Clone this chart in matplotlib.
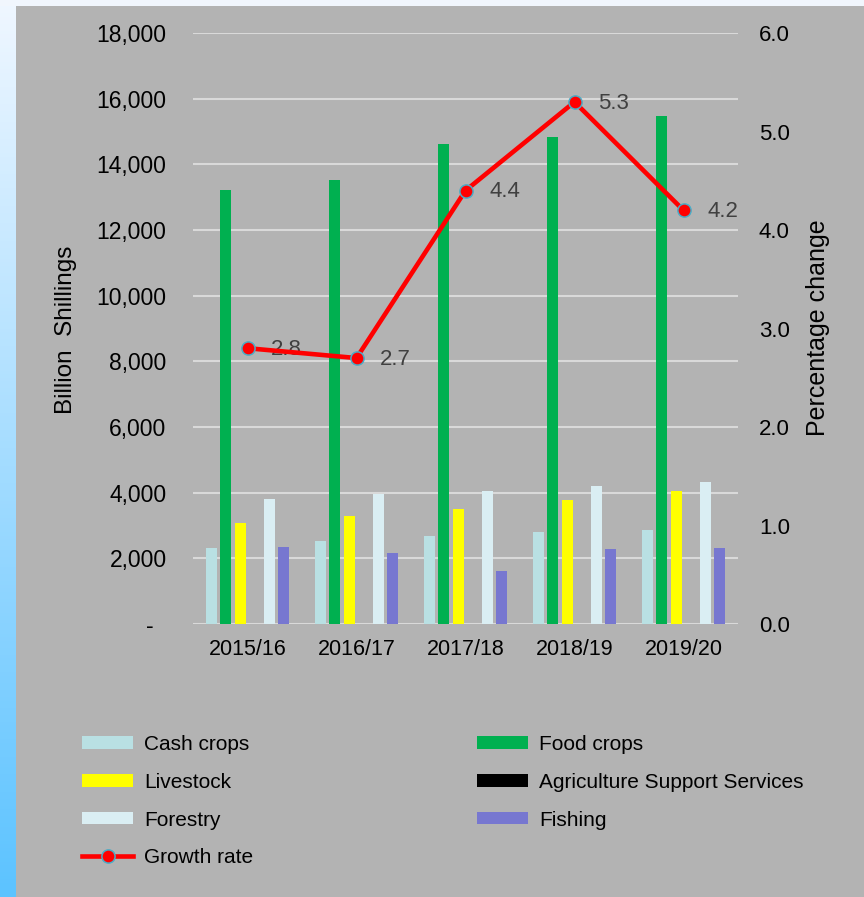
import numpy as np
import matplotlib
matplotlib.use("Agg")
import matplotlib.pyplot as plt
from matplotlib.colors import LinearSegmentedColormap
from matplotlib.lines import Line2D
from matplotlib.patches import Patch, Rectangle

plt.rcParams["font.family"] = ["Liberation Sans", "DejaVu Sans"]

# agricultural output, billion shillings, plus growth rate (%)
years = ["2015/16", "2016/17", "2017/18", "2018/19", "2019/20"]
cash_crops = [2320, 2530, 2680, 2790, 2860]
food_crops = [13210, 13510, 14620, 14820, 15480]
livestock = [3090, 3300, 3510, 3780, 4060]
support_services = [5, 5, 5, 5, 5]
forestry = [3820, 3950, 4060, 4200, 4340]
fishing = [2350, 2160, 1600, 2270, 2320]
growth_rate = [2.8, 2.7, 4.4, 5.3, 4.2]

series = [
    ("Cash crops", cash_crops, "#b9e0e3"),
    ("Food crops", food_crops, "#00b050"),
    ("Livestock", livestock, "#ffff00"),
    ("Agriculture Support Services", support_services, "#000000"),
    ("Forestry", forestry, "#daeef3"),
    ("Fishing", fishing, "#7777d0"),
]

BG = "#b3b3b3"
GRID = "#d9d9d9"

fig = plt.figure(figsize=(8.64, 8.97), dpi=100, facecolor=BG)

# light strip along the top, blue gradient down the left edge
fig.patches.append(Rectangle((0, 1 - 6 / 897), 1, 6 / 897, transform=fig.transFigure,
                             facecolor="#f1f6fd", edgecolor="none", zorder=0))
strip = fig.add_axes([0, 0, 16 / 864, 1])
cmap = LinearSegmentedColormap.from_list("edge", ["#f0f7ff", "#5cc3ff"])
strip.imshow(np.linspace(0, 1, 256).reshape(-1, 1), aspect="auto", cmap=cmap,
             extent=[0, 1, 0, 1], origin="upper")
strip.set_axis_off()

ax = fig.add_axes([193 / 864, 273 / 897, 545 / 864, 591 / 897])
ax.set_facecolor(BG)
x = np.arange(len(years))
pitch, width = 0.133, 0.105
for i, (name, vals, color) in enumerate(series):
    ax.bar(x + (i - 2.5) * pitch, vals, width=width, color=color, zorder=3)

ax.set_xlim(-0.5, len(years) - 0.5)
ax.set_ylim(0, 18000)
ax.set_yticks(np.arange(0, 18001, 2000))
ax.set_yticklabels(["-  " if v == 0 else f"{v:,.0f}" for v in range(0, 18001, 2000)])
ax.set_xticks(x)
ax.set_xticklabels(years)
ax.grid(axis="y", color=GRID, lw=1.5, zorder=1)
ax.tick_params(axis="y", length=0, pad=19, labelsize=16.5)
ax.tick_params(axis="x", length=0, pad=11, labelsize=15.5)
for s in ax.spines.values():
    s.set_visible(False)

ax2 = ax.twinx()
ax2.plot(x, growth_rate, color="#ff0000", lw=3.3, marker="o", ms=9.5,
         mfc="#ff0000", mec="#4bacc6", mew=1.1, zorder=5)
for xi, g in zip(x, growth_rate):
    ax2.annotate(f"{g:.1f}", (xi, g), xytext=(17, -1), textcoords="offset points",
                 ha="left", va="center", fontsize=16, color="#404040")
ax2.set_ylim(0, 6)
ax2.set_yticks(np.arange(0, 6.1, 1.0))
ax2.set_yticklabels([f"{v:.1f}" for v in np.arange(0, 6.1, 1.0)])
ax2.tick_params(axis="y", length=0, pad=15, labelsize=16)
for s in ax2.spines.values():
    s.set_visible(False)

fig.text(66 / 864, 1 - 330 / 897, "Billion  Shillings", rotation=90,
         ha="center", va="center", fontsize=17.5)
fig.text(818 / 864, 1 - 328 / 897, "Percentage change", rotation=90,
         ha="center", va="center", fontsize=18)

# legend filled column by column: left column first, then right
handles = {name: Patch(facecolor=color, edgecolor="none") for name, _, color in series}
growth_handle = Line2D([], [], color="#ff0000", lw=3.3, marker="o", ms=9.5,
                       mfc="#ff0000", mec="#4bacc6", mew=1.1)
order = ["Cash crops", "Livestock", "Forestry", None,
         "Food crops", "Agriculture Support Services", "Fishing"]
leg_handles = [handles[n] if n else growth_handle for n in order]
leg_labels = [n if n else "Growth rate" for n in order]
fig.legend(leg_handles, leg_labels, loc="upper left",
           bbox_to_anchor=(82 / 864, 1 - 735 / 897), ncol=2, frameon=False,
           fontsize=15, handlelength=2.45, handleheight=0.53, handletextpad=0.55,
           columnspacing=10.7, labelspacing=0.9, borderpad=0, borderaxespad=0)

fig.savefig("out.png", dpi=100, facecolor=BG)
